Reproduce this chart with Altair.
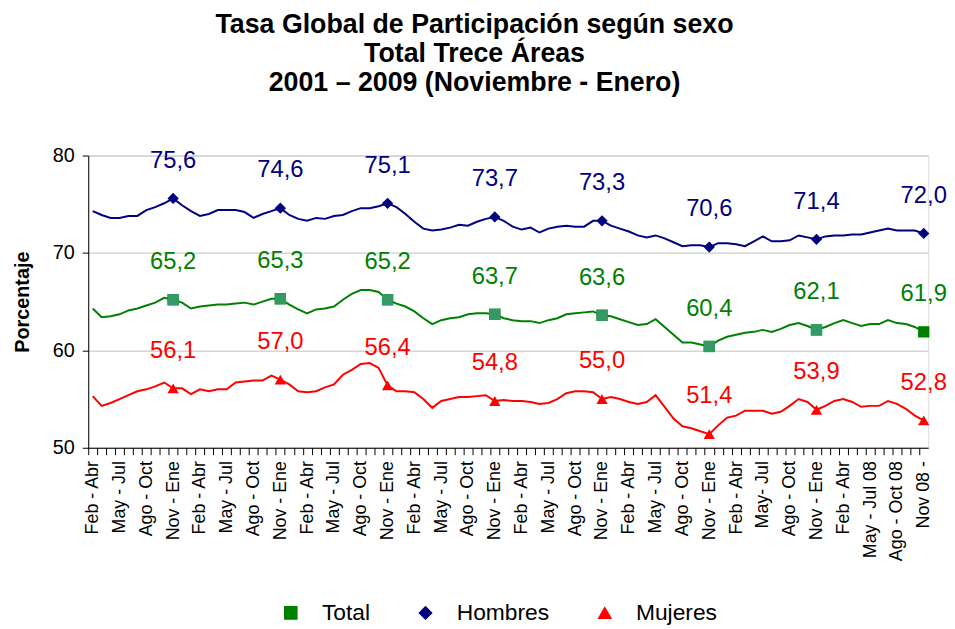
import json
import altair as alt
import pandas as pd

# ---------------- data ----------------
series = ["Total", "Hombres", "Mujeres"]

etiquetas = [
    "Feb - Abr", "May - Jul", "Ago - Oct", "Nov - Ene",
    "Feb - Abr", "May - Jul", "Ago - Oct", "Nov - Ene",
    "Feb - Abr", "May - Jul", "Ago - Oct", "Nov - Ene",
    "Feb - Abr", "May - Jul", "Ago - Oct", "Nov - Ene",
    "Feb - Abr", "May - Jul", "Ago - Oct", "Nov - Ene",
    "Feb - Abr", "May - Jul", "Ago - Oct", "Nov - Ene",
    "Feb - Abr", "May- Jul", "Ago - Oct", "Nov - Ene",
    "Feb - Abr", "May - Jul 08", "Ago - Oct 08", "Nov 08 -",
]

total = [
    64.3, 63.4, 63.5, 63.7, 64.1, 64.3, 64.6, 64.9, 65.4, 65.2,
    64.9, 64.3, 64.5, 64.6, 64.7, 64.7, 64.8, 64.9, 64.7, 65.0,
    65.3, 65.3, 64.7, 64.2, 63.8, 64.2, 64.3, 64.5, 65.2, 65.8,
    66.2, 66.2, 66.0, 65.2, 64.8, 64.5, 64.0, 63.3, 62.7, 63.1,
    63.3, 63.4, 63.7, 63.8, 63.8, 63.7, 63.3, 63.1, 63.0, 63.0,
    62.8, 63.1, 63.3, 63.7, 63.8, 63.9, 64.0, 63.6, 63.5, 63.2,
    62.9, 62.6, 62.7, 63.2, 62.4, 61.6, 60.8, 60.8, 60.6, 60.4,
    61.0, 61.4, 61.6, 61.8, 61.9, 62.1, 61.9, 62.2, 62.6, 62.8,
    62.5, 62.1, 62.4, 62.8, 63.1, 62.8, 62.5, 62.7, 62.7, 63.1,
    62.8, 62.7, 62.4, 61.9,
]

hombres = [
    74.3, 73.9, 73.6, 73.6, 73.8, 73.8, 74.4, 74.7, 75.1, 75.6,
    74.9, 74.3, 73.8, 74.0, 74.4, 74.4, 74.4, 74.2, 73.6, 74.0,
    74.3, 74.6, 73.9, 73.5, 73.3, 73.6, 73.5, 73.8, 73.9, 74.3,
    74.6, 74.6, 74.8, 75.1, 74.7, 74.0, 73.2, 72.5, 72.3, 72.4,
    72.6, 72.9, 72.8, 73.2, 73.5, 73.7, 73.3, 72.7, 72.4, 72.6,
    72.1, 72.5, 72.7, 72.8, 72.7, 72.7, 73.3, 73.3, 72.8, 72.5,
    72.2, 71.8, 71.6, 71.8, 71.5, 71.1, 70.7, 70.8, 70.8, 70.6,
    71.0, 71.0, 70.9, 70.7, 71.2, 71.7, 71.2, 71.2, 71.3, 71.8,
    71.6, 71.4, 71.7, 71.8, 71.8, 71.9, 71.9, 72.1, 72.3, 72.5,
    72.3, 72.3, 72.3, 72.0,
]

mujeres = [
    55.3, 54.3, 54.6, 55.0, 55.4, 55.8, 56.0, 56.3, 56.7, 56.1,
    56.1, 55.5, 56.0, 55.8, 56.0, 56.0, 56.7, 56.8, 56.9, 56.9,
    57.4, 57.0, 56.5, 55.8, 55.7, 55.8, 56.2, 56.5, 57.5, 58.0,
    58.6, 58.7, 58.2, 56.4, 55.8, 55.8, 55.7, 55.0, 54.1, 54.8,
    55.0, 55.2, 55.2, 55.3, 55.4, 54.8, 54.9, 54.8, 54.8, 54.7,
    54.5, 54.6, 55.0, 55.6, 55.8, 55.8, 55.7, 55.0, 55.2, 55.0,
    54.7, 54.5, 54.7, 55.4, 54.2, 53.0, 52.2, 52.0, 51.7, 51.4,
    52.3, 53.1, 53.3, 53.8, 53.8, 53.8, 53.5, 53.7, 54.3, 55.0,
    54.7, 53.9, 54.3, 54.8, 55.0, 54.7, 54.2, 54.3, 54.3, 54.8,
    54.5, 54.0, 53.3, 52.8,
]

# ---------------- table ----------------
rows = []
for s, vals in zip(series, [total, hombres, mujeres]):
    for i, v in enumerate(vals):
        rows.append({"i": i, "serie": s, "valor": v})
df = pd.DataFrame(rows)

n = len(total)
FONT = "Liberation Sans"
colores = ["#008000", "#000080", "#FF0000"]
cscale = alt.Scale(domain=series, range=colores)
formas = ["square", "diamond", "triangle-up"]

xscale = alt.Scale(domain=[-0.5, n - 0.5], nice=False, zero=False)
yscale = alt.Scale(domain=[50, 80], nice=False, zero=False)

# one tick per category (shifted to the category edges); every third one labelled
arr = json.dumps(etiquetas)
label_expr = "datum.value % 3 == 0 ? " + arr + "[round(datum.value / 3)] : ''"

x_axis = alt.Axis(
    values=list(range(n)), labelExpr=label_expr,
    labelAngle=270, labelAlign="right", labelBaseline="middle",
    labelFontSize=18, labelFont=FONT, labelColor="black",
    labelPadding=6, ticks=True, tickSize=7, tickOffset=-4.5,
    labelOffset=4.5, tickColor="black", domainColor="black",
    grid=False, title=None, labelOverlap=False, labelBound=False,
    orient="bottom")

y_axis = alt.Axis(
    values=[50, 60, 70, 80], title="Porcentaje", titleFont=FONT,
    titleFontSize=20, titleFontWeight="bold", titleColor="black",
    titlePadding=20, labelFont=FONT, labelFontSize=20, labelColor="black",
    labelPadding=8, tickSize=6, tickColor="black", domainColor="black",
    grid=True, gridColor="#c0c0c0", orient="left")

leg = alt.Legend(
    orient="none", legendX=193, legendY=450, direction="horizontal",
    title=None, labelFont=FONT, labelFontSize=23, labelColor="black",
    symbolSize=150, labelOffset=20, columnPadding=44)

# the same axis / legend definitions in every layer, so that they merge
X = alt.X("i:Q", scale=xscale, axis=x_axis)
Y = alt.Y("valor:Q", scale=yscale, axis=y_axis)
C = alt.Color("serie:N", scale=cscale, legend=leg)

base = alt.Chart(df)

lines = base.mark_line(strokeWidth=2).encode(x=X, y=Y, color=C, detail="serie:N")

marks = base.transform_filter("datum.i % 12 == 9")

# markers (they also carry the legend shapes)
m_all = marks.mark_point(filled=True, opacity=1, size=130).encode(
    x=X, y=Y, color=C,
    shape=alt.Shape("serie:N", scale=alt.Scale(domain=series, range=formas), legend=leg),
)

# Total markers are a lighter green except the last
m_total = marks.transform_filter("datum.serie == 'Total' && datum.i < " + str(n - 1)).mark_point(
    shape="square", filled=True, size=130, opacity=1, color="#339966").encode(x=X, y=Y)

labels = marks.transform_calculate(
    txt="replace(format(datum.valor, '.1f'), '.', ',')"
).mark_text(dy=-38, fontSize=24, font=FONT, baseline="middle", align="center").encode(
    x=X, y=Y, text="txt:N", color=C)

chart = alt.layer(lines, m_all, m_total, labels).properties(
    width=848, height=295,
    padding={"left": 4, "top": 0, "right": 0, "bottom": 0},
    title=alt.TitleParams(
        text=["Tasa Global de Participación según sexo", "Total Trece Áreas",
              "2001 – 2009 (Noviembre - Enero)"],
        font=FONT, fontSize=27, fontWeight="bold", color="black",
        anchor="middle", dx=-34, offset=49, lineHeight=29.5),
).configure_view(stroke="#c0c0c0", strokeWidth=1).configure(background="white")

chart.save("out.html", embed_options={"renderer": "svg", "actions": False})
